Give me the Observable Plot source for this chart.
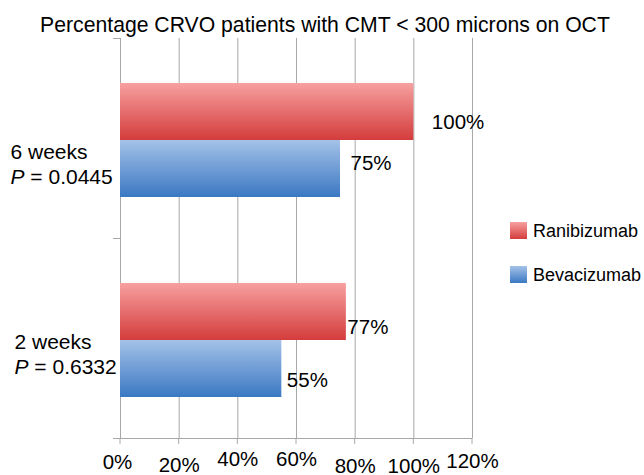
<!DOCTYPE html>
<html><head><meta charset="utf-8">
<script src="https://cdn.jsdelivr.net/npm/d3@7"></script>
<script src="https://cdn.jsdelivr.net/npm/@observablehq/plot@0.6"></script>
<style>body{margin:0;background:#fff} svg{display:block}</style>
</head><body><div id="chart"></div>
<script>
// ---- data ----
const title = "Percentage CRVO patients with CMT < 300 microns on OCT";
const weeks = ["6 weeks", "2 weeks"];
const pValues = ["0.0445", "0.6332"];
const drugs = ["Ranibizumab", "Bevacizumab"];
const ranibizumab = [100, 77];
const bevacizumab = [75, 55];
const xTicks = [0, 20, 40, 60, 80, 100, 120];

const rows = weeks.flatMap((w, i) => [
  {week: w, drug: drugs[0], value: ranibizumab[i]},
  {week: w, drug: drugs[1], value: bevacizumab[i]}
]);

// ---- layout constants ----
const W = 644, H = 475;
const font = "'Liberation Sans', Arial, Helvetica, sans-serif";
const gridColor = "#a8a8a8";
const valueNudge = [[18, 10], [10, -6], [1, 15], [5, 11]];          // per bar label (dx, dy)
const catNudge = [[-110, 106, 131], [-106, 96, 121]];                // per category (dx, dy line1, dy line2)
const tickNudge = [[-3, 30], [0, 33], [0, 27], [0, 27], [0, 34], [0, 34], [0, 29]]; // per tick label

const marks = [
  Plot.ruleX(xTicks, {x: d => d, stroke: gridColor, strokeWidth: 1}),
  Plot.barX(rows.filter(d => d.drug === drugs[0]), {x: "value", y: "drug", fy: "week", fill: "url(#gradR)"}),
  Plot.barX(rows.filter(d => d.drug === drugs[1]), {x: "value", y: "drug", fy: "week", fill: "url(#gradB)"}),
  ...rows.map((r, i) => Plot.text([r], {
    x: "value", y: "drug", fy: "week", text: d => d.value + "%",
    textAnchor: "start", dx: valueNudge[i][0], dy: valueNudge[i][1],
    fontSize: 20.5, fill: "#000"
  })),
  ...weeks.map((w, i) => Plot.text([w], {
    fy: d => d, text: d => d, frameAnchor: "top-left", textAnchor: "start",
    dx: catNudge[i][0], dy: catNudge[i][1], fontSize: 21, fill: "#000"
  })),
  ...weeks.map((w, i) => Plot.text([w], {
    fy: d => d, text: () => "P = " + pValues[i], frameAnchor: "top-left", textAnchor: "start",
    dx: catNudge[i][0], dy: catNudge[i][2], fontSize: 21, fill: "#000"
  })),
  ...xTicks.map((t, i) => Plot.text([t], {
    x: d => d, fy: () => weeks[weeks.length - 1], text: d => d + "%", frameAnchor: "bottom",
    dx: tickNudge[i][0], dy: tickNudge[i][1], fontSize: 20.5, fill: "#000"
  }))
];

const plot = Plot.plot({
  width: W, height: H,
  marginTop: 38, marginBottom: 37, marginLeft: 120, marginRight: 172,
  style: {fontFamily: font, background: "#fff"},
  x: {domain: [0, 120], axis: null},
  y: {domain: drugs, padding: 0, axis: null, insetTop: 44, insetBottom: 41},
  fy: {domain: weeks, padding: 0, axis: null},
  marks
});

const svg = d3.select(plot);
const defs = svg.insert("defs", ":first-child");
function grad(id, c0, c1) {
  const g = defs.append("linearGradient").attr("id", id)
    .attr("x1", 0).attr("y1", 0).attr("x2", 0).attr("y2", 1);
  g.append("stop").attr("offset", "0%").attr("stop-color", c0);
  g.append("stop").attr("offset", "100%").attr("stop-color", c1);
}
grad("gradR", "#f7a0a0", "#d43c3c");
grad("gradB", "#a4c2e8", "#3b78c3");

// italic P
svg.selectAll("text").each(function() {
  const t = this.textContent;
  if (/^P = /.test(t)) {
    const el = d3.select(this);
    el.text("");
    el.append("tspan").attr("font-style", "italic").text("P");
    el.append("tspan").text(" = " + t.slice(4));
  }
});

// axis lines, using the plot's scales
const xs = plot.scale("x");
const fys = plot.scale("fy");
const x0 = xs.apply(0), x1 = xs.apply(xTicks[xTicks.length - 1]);
const bounds = weeks.map(w => fys.apply(w));
bounds.push(bounds[bounds.length - 1] + fys.bandwidth);
const yBot = bounds[bounds.length - 1];
const axisG = svg.append("g").attr("stroke", gridColor).attr("stroke-width", 1).attr("fill", "none");
bounds.forEach(b => axisG.append("line").attr("x1", x0 - 7).attr("x2", x0).attr("y1", b + 0.5).attr("y2", b + 0.5));
axisG.append("line").attr("x1", x0 - 7).attr("x2", x1).attr("y1", yBot + 0.5).attr("y2", yBot + 0.5);
xTicks.forEach(t => axisG.append("line").attr("x1", xs.apply(t)).attr("x2", xs.apply(t)).attr("y1", yBot).attr("y2", yBot + 6));

// title
svg.append("text").attr("x", 325).attr("y", 32).attr("text-anchor", "middle")
  .attr("font-family", font).attr("font-size", 21.2).attr("fill", "#000").text(title);

// legend
const legend = svg.append("g").attr("font-family", font).attr("font-size", 18).attr("fill", "#000").attr("text-anchor", "start");
[["gradR", drugs[0], 222], ["gradB", drugs[1], 266]].forEach(([g, name, y]) => {
  legend.append("rect").attr("x", 510).attr("y", y).attr("width", 17).attr("height", 17).attr("fill", `url(#${g})`);
  legend.append("text").attr("x", 533).attr("y", y + 9).attr("dy", "0.35em").attr("text-anchor", "start").text(name);
});

document.getElementById("chart").appendChild(plot);
</script>
</body></html>
